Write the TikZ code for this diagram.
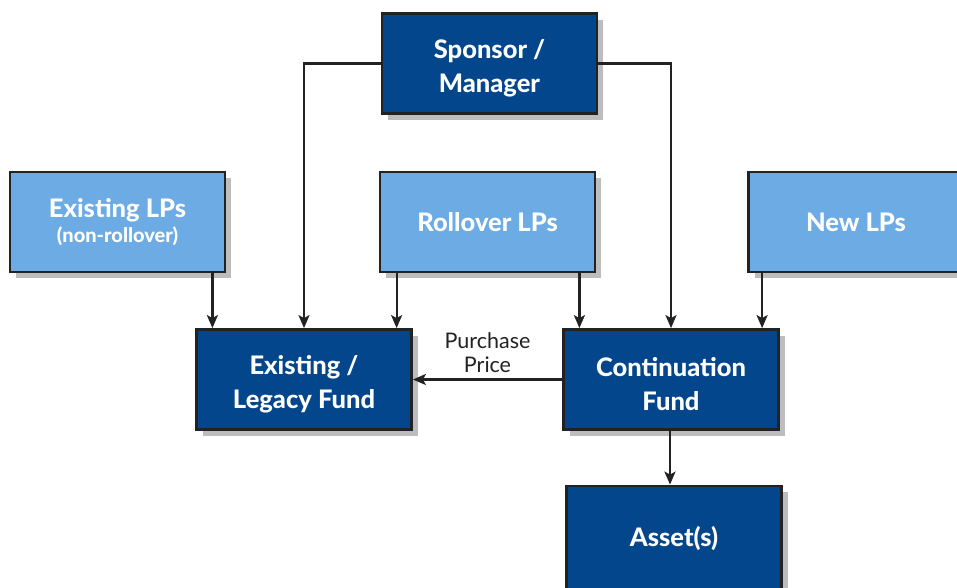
\documentclass[tikz,border=0pt]{standalone}
\usepackage{fontspec}
\setmainfont[BoldFont={Lato Heavy}]{Lato}
\usetikzlibrary{arrows.meta,positioning,shadows}
\definecolor{FundBlue}{HTML}{03468C}
\definecolor{LPBlue}{HTML}{6CABE3}
\definecolor{Edge}{HTML}{222222}
\definecolor{Shade}{HTML}{BDBDBD}
% extra room above the first of two lines
\newcommand{\capgap}{\rule{0pt}{28pt}}

\begin{document}
\begin{tikzpicture}[x=1pt,y=-1pt,
    box/.style={draw=Edge,line width=2.8pt,minimum width=215pt,minimum height=100pt,
                align=center,text=white,font=\fontsize{25.5}{34}\selectfont\bfseries,
                drop shadow={shadow xshift=6pt,shadow yshift=-6pt,fill=Shade,opacity=1}},
    fund/.style={box,fill=FundBlue},
    lp/.style={box,fill=LPBlue},
    arr/.style={-{Stealth[length=13pt,width=11pt,inset=3pt]},line width=2.2pt,Edge}]
    \useasboundingbox (0,0) rectangle (957,587);
    \clip (0,0) rectangle (957,587);
    \fill[white] (0,0) rectangle (957,587);
    \node[fund] (sponsor) at (489.5,63.5) {\capgap Sponsor /\\Manager};
    \node[lp] (exlps) at (117.5,222) {Existing LPs\\[-9pt]{\fontsize{20}{24}\selectfont(non-rollover)}};
    \node[lp] (roll) at (487.5,222) {Rollover LPs};
    \node[lp] (newlps) at (856,222) {New LPs};
    \node[fund] (legacy) at (304,379.5) {\capgap Existing /\\Legacy Fund};
    \node[fund] (cont) at (671,379.5) {\capgap Continuation\\Fund};
    \node[fund,minimum height=104pt] (asset) at (674,538) {Asset(s)};
    % sponsor feeds both funds
    \draw[arr] (sponsor.west) -| (legacy.north);
    \draw[arr] (sponsor.east) -| (cont.north);
    % LP commitments
    \draw[arr] ([xshift=-14pt]exlps.south east) -- ([xshift=-14pt]exlps.south east |- legacy.north);
    \draw[arr] ([xshift=18pt]roll.south west) -- ([xshift=18pt]roll.south west |- legacy.north);
    \draw[arr] ([xshift=-17pt]roll.south east) -- ([xshift=-17pt]roll.south east |- cont.north);
    \draw[arr] ([xshift=15pt]newlps.south west) -- ([xshift=15pt]newlps.south west |- cont.north);
    \draw[arr] (cont.west) -- node[above=2pt,align=center,text=Edge,
        font=\fontsize{21.5}{24}\selectfont] (price) {Purchase\\Price} (legacy.east);
    \draw[arr] ([xshift=-1pt]cont.south) -- ([xshift=-1pt]cont.south |- asset.north);
\end{tikzpicture}
\end{document}
